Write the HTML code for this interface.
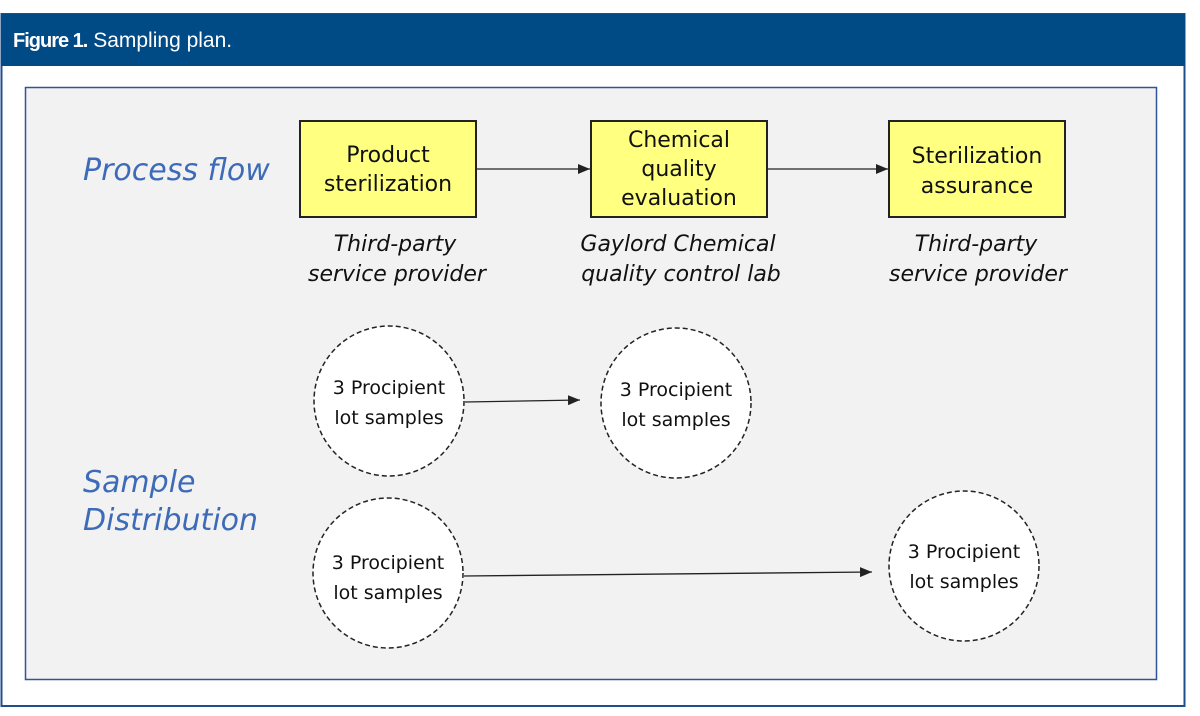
<!DOCTYPE html>
<html><head><style>
body{margin:0;background:#fff;}
svg{display:block;}
</style></head><body>
<svg width="1200" height="716" viewBox="0 0 1200 716" xmlns="http://www.w3.org/2000/svg">
<defs>
<marker id="a" markerWidth="12" markerHeight="10" refX="12" refY="5" orient="auto" markerUnits="userSpaceOnUse">
<path d="M0,0 L12,5 L0,10 z" fill="#222"/>
</marker>
</defs>
<rect x="1.5" y="14" width="1183" height="692" fill="#fff" stroke="#1f4e8c" stroke-width="2"/>
<rect x="1" y="14" width="1184" height="52" fill="#004a85"/>
<text x="13" y="47" font-family="Liberation Sans, sans-serif" font-size="21" fill="#fff"><tspan font-weight="bold" font-size="20" letter-spacing="-1">Figure 1.</tspan> Sampling plan.</text>
<rect x="25.5" y="87.5" width="1131" height="592" fill="#f2f2f2" stroke="#2e5597" stroke-width="1.5"/>
<g font-family="DejaVu Sans, sans-serif" font-style="italic" fill="#3d6bb8" font-size="30">
<text x="83" y="180">Process flow</text>
<text x="83" y="492">Sample</text>
<text x="83" y="530">Distribution</text>
</g>
<g stroke="#222" stroke-width="2" fill="#ffff80">
<rect x="300" y="121" width="176" height="96"/>
<rect x="591" y="121" width="176" height="96"/>
<rect x="889" y="121" width="176" height="96"/>
</g>
<g font-family="DejaVu Sans, sans-serif" font-size="22" fill="#111" text-anchor="middle">
<text x="388" y="162">Product</text>
<text x="388" y="191">sterilization</text>
<text x="679" y="147">Chemical</text>
<text x="679" y="176">quality</text>
<text x="679" y="205">evaluation</text>
<text x="977" y="163">Sterilization</text>
<text x="977" y="193">assurance</text>
</g>
<g font-family="DejaVu Sans, sans-serif" font-style="italic" font-size="22" fill="#111" text-anchor="middle">
<text x="395" y="251">Third-party</text>
<text x="397" y="281">service provider</text>
<text x="678" y="251">Gaylord Chemical</text>
<text x="681" y="281">quality control lab</text>
<text x="976" y="251">Third-party</text>
<text x="978" y="281">service provider</text>
</g>
<g stroke="#222" stroke-width="1.3" fill="none" marker-end="url(#a)">
<line x1="477" y1="169" x2="590" y2="169"/>
<line x1="768" y1="169" x2="888" y2="169"/>
<line x1="465" y1="402" x2="580" y2="400"/>
<line x1="464" y1="576" x2="872" y2="572"/>
</g>
<g stroke="#222" stroke-width="1.5" stroke-dasharray="5,3" fill="#fff">
<circle cx="389" cy="401" r="75"/>
<circle cx="676" cy="403" r="75"/>
<circle cx="388" cy="573" r="75"/>
<circle cx="964" cy="566" r="75"/>
</g>
<g font-family="DejaVu Sans, sans-serif" font-size="19" fill="#111" text-anchor="middle">
<text x="389" y="394">3 Procipient</text>
<text x="389" y="424">lot samples</text>
<text x="676" y="396">3 Procipient</text>
<text x="676" y="426">lot samples</text>
<text x="388" y="569">3 Procipient</text>
<text x="388" y="599">lot samples</text>
<text x="964" y="558">3 Procipient</text>
<text x="964" y="588">lot samples</text>
</g>
</svg>
</body></html>
